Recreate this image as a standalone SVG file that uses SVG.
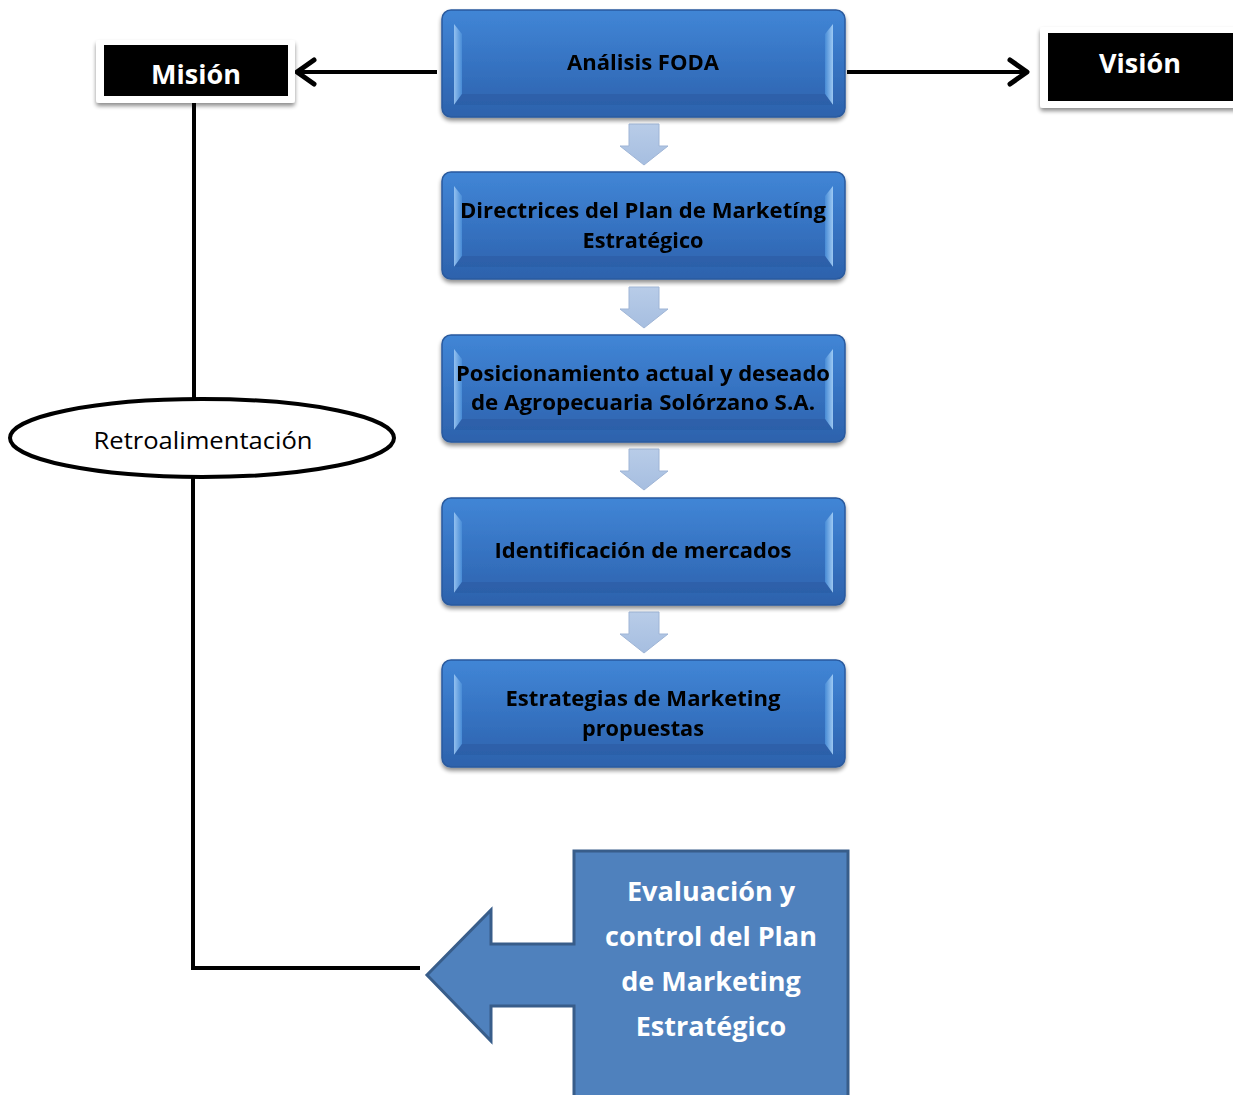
<svg xmlns="http://www.w3.org/2000/svg" width="1233" height="1095" viewBox="0 0 1233 1095">
<defs>
<linearGradient id="gb" x1="0" y1="0" x2="0" y2="1">
<stop offset="0" stop-color="#4186D6"/>
<stop offset="0.5" stop-color="#3673C2"/>
<stop offset="1" stop-color="#2D62AC"/>
</linearGradient>
<linearGradient id="gl" x1="0" y1="0" x2="1" y2="0">
<stop offset="0" stop-color="#9CC8F4"/>
<stop offset="1" stop-color="#4A8ED8"/>
</linearGradient>
<linearGradient id="gr" x1="0" y1="0" x2="1" y2="0">
<stop offset="0" stop-color="#4A8ED8"/>
<stop offset="1" stop-color="#A8D2F8"/>
</linearGradient>
<linearGradient id="ga" x1="0" y1="0" x2="0" y2="1">
<stop offset="0" stop-color="#B8CCE8"/>
<stop offset="1" stop-color="#A6BEE0"/>
</linearGradient>
<filter id="sh" x="-10%" y="-10%" width="120%" height="130%">
<feGaussianBlur in="SourceAlpha" stdDeviation="2"/>
<feOffset dx="0" dy="3" result="b"/>
<feComponentTransfer><feFuncA type="linear" slope="0.45"/></feComponentTransfer>
<feMerge><feMergeNode/><feMergeNode in="SourceGraphic"/></feMerge>
</filter>
<g id="box">
<rect x="0" y="0" width="403" height="107" rx="9" fill="url(#gb)" stroke="#2A5A9E" stroke-width="1.5"/>
<path d="M12 14 L20 24 L20 84 L12 95 Z" fill="url(#gl)" opacity="0.9"/>
<path d="M391 14 L383 24 L383 84 L391 95 Z" fill="url(#gr)" opacity="0.9"/>
<path d="M12 95 L20 84 L383 84 L391 95 Z" fill="#2B5CA3" opacity="0.6"/>
</g>
<g id="dn">
<path d="M9 0 H39 V22 H48 L24 41 L0 22 H9 Z" fill="url(#ga)" stroke="#9FB5D6" stroke-width="1"/>
</g>
</defs>
<style>
.bt{font-family:"Open Sans","Liberation Sans",sans-serif;font-weight:bold;font-size:21px;fill:#000;text-anchor:middle}
.wt{font-family:"Open Sans","Liberation Sans",sans-serif;font-weight:bold;fill:#fff;text-anchor:middle}
.ln{fill:none;stroke:#000;stroke-width:4}
.hd{fill:none;stroke:#000;stroke-width:5;stroke-linecap:round;stroke-linejoin:round}
</style>
<rect width="1233" height="1095" fill="#fff"/>

<g id="connectors">
<path class="ln" d="M437 72 H296"/>
<path class="hd" d="M314 60 L297 72 L314 84"/>
<path class="ln" d="M847 72 H1026"/>
<path class="hd" d="M1010 60 L1027 72 L1010 84"/>
<path class="ln" d="M194 103 V399"/>
<path class="ln" d="M193 477 V968 H420"/>
<g id="down-arrows">
<use href="#dn" x="620" y="124"/>
<use href="#dn" x="620" y="287"/>
<use href="#dn" x="620" y="449"/>
<use href="#dn" x="620" y="612"/>
</g>
</g>

<g id="mision">
<rect x="96" y="40" width="199" height="63" rx="3" fill="#fff" filter="url(#sh)"/>
<rect x="104" y="45" width="184" height="51" fill="#000"/>
<text class="wt" x="196" y="84" font-size="27">Misión</text>
</g>

<g id="vision">
<rect x="1040" y="27" width="200" height="81" rx="3" fill="#fff" filter="url(#sh)"/>
<rect x="1048" y="33" width="185" height="68" fill="#000"/>
<text class="wt" x="1140" y="73" font-size="27">Visión</text>
</g>

<g id="foda" filter="url(#sh)">
<use href="#box" x="442" y="10"/>
<text class="bt" x="643" y="70" textLength="152" lengthAdjust="spacingAndGlyphs">Análisis FODA</text>
</g>
<g id="directrices" filter="url(#sh)">
<use href="#box" x="442" y="172"/>
<text class="bt" x="643" y="218" textLength="366" lengthAdjust="spacingAndGlyphs">Directrices del Plan de Marketíng</text>
<text class="bt" x="643" y="248" textLength="121" lengthAdjust="spacingAndGlyphs">Estratégico</text>
</g>
<g id="posicionamiento" filter="url(#sh)">
<use href="#box" x="442" y="335"/>
<text class="bt" x="643" y="381" textLength="374" lengthAdjust="spacingAndGlyphs">Posicionamiento actual y deseado</text>
<text class="bt" x="643" y="410" textLength="344" lengthAdjust="spacingAndGlyphs">de Agropecuaria Solórzano S.A.</text>
</g>
<g id="mercados" filter="url(#sh)">
<use href="#box" x="442" y="498"/>
<text class="bt" x="643" y="558" textLength="297" lengthAdjust="spacingAndGlyphs">Identificación de mercados</text>
</g>
<g id="estrategias" filter="url(#sh)">
<use href="#box" x="442" y="660"/>
<text class="bt" x="643" y="706" textLength="275" lengthAdjust="spacingAndGlyphs">Estrategias de Marketing</text>
<text class="bt" x="643" y="736" textLength="122" lengthAdjust="spacingAndGlyphs">propuestas</text>
</g>

<g id="retroalimentacion">
<ellipse cx="202" cy="438" rx="192" ry="39" fill="#fff" stroke="#000" stroke-width="4"/>
<text x="203" y="449" font-family="Open Sans, Liberation Sans, sans-serif" font-size="24" text-anchor="middle" fill="#000" textLength="219" lengthAdjust="spacingAndGlyphs">Retroalimentación</text>
</g>

<g id="evaluacion">
<path d="M574 851 H848 V1100 H574 V1006 H491 V1041 L427 975 L491 910 V944 H574 Z" fill="#4F81BD" stroke="#385D8A" stroke-width="3"/>
<text class="wt" font-size="27" x="711" y="901">Evaluación y</text>
<text class="wt" font-size="27" x="711" y="946">control del Plan</text>
<text class="wt" font-size="27" x="711" y="991">de Marketing</text>
<text class="wt" font-size="27" x="711" y="1036">Estratégico</text>
</g>
</svg>
